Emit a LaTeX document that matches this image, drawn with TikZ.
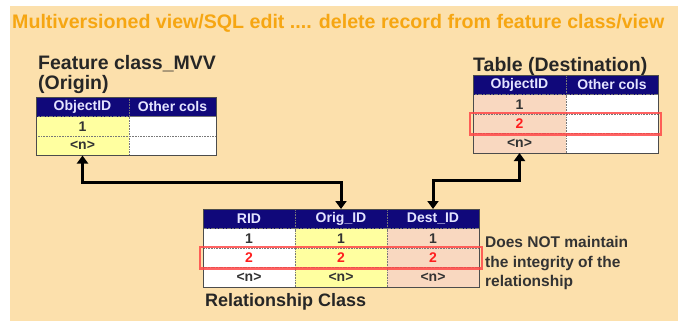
\documentclass[tikz,border=0pt]{standalone}
\usepackage{fontspec}
\setmainfont{Liberation Sans}
\usetikzlibrary{arrows.meta}

\definecolor{bgpeach}{RGB}{252,224,172}
\definecolor{titleorange}{RGB}{246,166,18}
\definecolor{hdrnavy}{RGB}{16,8,122}
\definecolor{hdrtext}{RGB}{228,228,255}
\definecolor{origyellow}{RGB}{255,255,160}
\definecolor{destpeach}{RGB}{249,216,192}
\definecolor{gridgray}{RGB}{120,120,120}
\definecolor{hlred}{RGB}{255,72,72}
\definecolor{keyred}{RGB}{255,30,30}

\tikzset{
  cellbox/.style={draw=gridgray, line width=0.6pt, densely dotted, inner sep=0pt, outer sep=0pt,
    minimum height=19.5pt, anchor=north west, font=\fontsize{14}{14}\selectfont\bfseries},
  hdrcell/.style={cellbox, fill=hdrnavy, text=hdrtext},
  plaincell/.style={cellbox, fill=white, text=black!80},
  origcell/.style={cellbox, fill=origyellow, text=black!80},
  destcell/.style={cellbox, fill=destpeach, text=black!80},
  keytext/.style={text=keyred},
  tabframe/.style={draw=black!70, line width=0.9pt},
  hlbox/.style={draw=hlred, line width=2.4pt, opacity=0.85},
  lbl/.style={anchor=base west, inner sep=0pt, font=\fontsize{19.5}{20}\selectfont\bfseries, text=black!85},
  note/.style={anchor=base west, inner sep=0pt, font=\fontsize{15.5}{16}\selectfont\bfseries, text=black!80},
  link/.style={line width=3pt, {Triangle[width=11pt,length=8pt]}-{Triangle[width=11pt,length=8pt]}}
}

\begin{document}
\begin{tikzpicture}[x=1pt,y=-1pt]
\useasboundingbox (0,0) rectangle (684,324);
\fill[bgpeach] (10,6) rectangle (678,321);

% heading
\node[anchor=base west, inner sep=0pt, font=\fontsize{19.6}{20}\selectfont\bfseries, text=titleorange]
  (title) at (12,28) {Multiversioned view/SQL edit .... delete record from feature class/view};

% origin feature class
\node[lbl] (origlbl) at (38,69) {Feature class\_MVV};
\node[lbl] (origsub) at (38,89) {(Origin)};
\node[hdrcell, minimum width=93pt] (o-h1) at (36,97) {ObjectID};
\node[hdrcell, minimum width=87pt] (o-h2) at (129,97) {Other cols};
\node[origcell, minimum width=93pt] (o-11) at (36,116.5) {1};
\node[plaincell, minimum width=87pt] (o-12) at (129,116.5) {};
\node[origcell, minimum width=93pt] (o-21) at (36,136) {<n>};
\node[plaincell, minimum width=87pt] (o-22) at (129,136) {};
\draw[tabframe] (o-h1.north west) rectangle (o-22.south east);

% destination table
\node[lbl] (destlbl) at (473,71) {Table (Destination)};
\node[hdrcell, minimum width=93pt] (d-h1) at (473,75) {ObjectID};
\node[hdrcell, minimum width=92pt] (d-h2) at (566,75) {Other cols};
\node[destcell, minimum width=93pt] (d-11) at (473,94.5) {1};
\node[plaincell, minimum width=92pt] (d-12) at (566,94.5) {};
\node[destcell, keytext, minimum width=93pt] (d-21) at (473,114) {2};
\node[plaincell, minimum width=92pt] (d-22) at (566,114) {};
\node[destcell, minimum width=93pt] (d-31) at (473,133.5) {<n>};
\node[plaincell, minimum width=92pt] (d-32) at (566,133.5) {};
\draw[tabframe] (d-h1.north west) rectangle (d-32.south east);
\draw[hlbox] ([shift={(-3,-1)}]d-21.north west) rectangle ([shift={(3,1)}]d-22.south east);

% relationship class table
\node[hdrcell, minimum width=92pt] (r-h1) at (203,209) {RID};
\node[hdrcell, minimum width=92pt] (r-h2) at (295,209) {Orig\_ID};
\node[hdrcell, minimum width=92pt] (r-h3) at (387,209) {Dest\_ID};
\node[plaincell, minimum width=92pt] (r-11) at (203,228.5) {1};
\node[origcell, minimum width=92pt] (r-12) at (295,228.5) {1};
\node[destcell, minimum width=92pt] (r-13) at (387,228.5) {1};
\node[plaincell, keytext, minimum width=92pt] (r-21) at (203,248) {2};
\node[origcell, keytext, minimum width=92pt] (r-22) at (295,248) {2};
\node[destcell, keytext, minimum width=92pt] (r-23) at (387,248) {2};
\node[plaincell, minimum width=92pt] (r-31) at (203,267.5) {<n>};
\node[origcell, minimum width=92pt] (r-32) at (295,267.5) {<n>};
\node[destcell, minimum width=92pt] (r-33) at (387,267.5) {<n>};
\draw[tabframe] (r-h1.north west) rectangle (r-33.south east);
\draw[hlbox] ([shift={(-3,-1)}]r-21.north west) rectangle ([shift={(3,1)}]r-23.south east);
\node[lbl, font=\fontsize{18}{18}\selectfont\bfseries] (rellbl) at (205,306) {Relationship Class};

% remark beside the relationship rows
\node[note] (note1) at (485,247) {Does NOT maintain};
\node[note] (note2) at (485,267) {the integrity of the};
\node[note] (note3) at (485,286) {relationship};

% key links
\draw[link] (o-21.south) -- ++(0,27) -| (r-h2.north);
\draw[link] (r-h3.north) -- ++(0,-29) -| (d-31.south);
\end{tikzpicture}
\end{document}
